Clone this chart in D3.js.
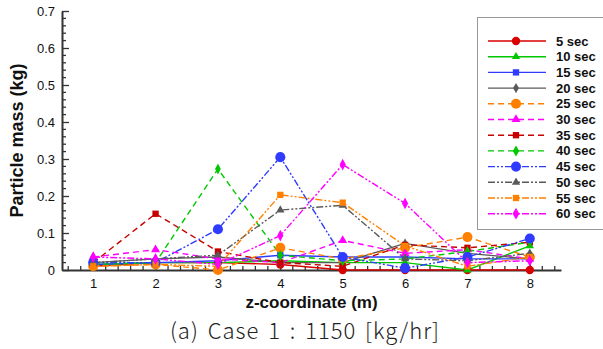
<!DOCTYPE html>
<html>
<head>
<meta charset="utf-8">
<script src="https://cdn.jsdelivr.net/npm/d3@7"></script>
<style>
  body { margin: 0; background: #fff; }
  svg { display: block; }
  text { font-family: "Liberation Sans", Arial, sans-serif; }
</style>
</head>
<body>
<div id="chart"></div>
<script>
"use strict";

// z positions (m)
var zCoords = [1, 2, 3, 4, 5, 6, 7, 8];
var yTicks = [0, 0.1, 0.2, 0.3, 0.4, 0.5, 0.6, 0.7];

// series names and values
var seriesNames = ["5 sec", "10 sec", "15 sec", "20 sec", "25 sec", "30 sec",
                   "35 sec", "40 sec", "45 sec", "50 sec", "55 sec", "60 sec"];
var mass5  = [0.010, 0.020, 0.020, 0.015, 0.000, 0.000, 0.000, 0.000];
var mass10 = [0.015, 0.020, 0.020, 0.025, 0.020, 0.020, 0.000, 0.065];
var mass15 = [0.015, 0.020, 0.025, 0.040, 0.035, 0.035, 0.030, 0.030];
var mass20 = [0.020, 0.030, 0.035, 0.020, 0.020, 0.072, 0.045, 0.030];
var mass25 = [0.010, 0.015, 0.000, 0.060, 0.030, 0.060, 0.089, 0.035];
var mass30 = [0.035, 0.055, 0.030, 0.020, 0.080, 0.045, 0.055, 0.030];
var mass35 = [0.020, 0.152, 0.050, 0.020, 0.010, 0.068, 0.060, 0.075];
var mass40 = [0.015, 0.020, 0.273, 0.040, 0.025, 0.030, 0.050, 0.075];
var mass45 = [0.020, 0.020, 0.110, 0.305, 0.035, 0.005, 0.035, 0.085];
var mass50 = [0.020, 0.030, 0.040, 0.162, 0.175, 0.030, 0.025, 0.045];
var mass55 = [0.010, 0.015, 0.010, 0.203, 0.182, 0.065, 0.010, 0.035];
var mass60 = [0.035, 0.030, 0.015, 0.093, 0.285, 0.180, 0.020, 0.025];
var allMass = [mass5, mass10, mass15, mass20, mass25, mass30,
               mass35, mass40, mass45, mass50, mass55, mass60];

// styles
var colors = ["#d90000", "#00c800", "#2f3cff", "#5a5a5a", "#ff8000", "#ff00ff",
              "#c80000", "#00c800", "#2f3cff", "#5a5a5a", "#ff8000", "#ff00ff"];
var dashes = ["none", "none", "none", "none", "6,4", "6,4", "6,4", "6,4",
              "7,2,2,2,2,2", "7,2,2,2,2,2", "7,2,2,2,2,2", "7,2,2,2,2,2"];
var shapes = ["circle", "triangle", "square", "diamond", "circle", "triangle",
              "square", "diamond", "circle", "triangle", "square", "diamond"];
var sizes = [55, 30, 40, 30, 80, 35, 40, 35, 80, 30, 40, 40];

var W = 603, H = 349;
var margin = { left: 62, right: 42, top: 11, bottom: 79 };

var svg = d3.select("#chart").append("svg")
    .attr("width", W)
    .attr("height", H);

var x = d3.scaleLinear().domain([0.5, 8.5]).range([margin.left, W - margin.right]);
var y = d3.scaleLinear().domain([0, 0.7]).range([H - margin.bottom, margin.top]);

var symbolType = {
    circle: d3.symbolCircle,
    triangle: d3.symbolTriangle,
    square: d3.symbolSquare,
    diamond: d3.symbolDiamond
};

//minor ticks first
var axisColor = "#333";
var minorX = d3.range(0.6, 8.45, 0.2).filter(function (v) { return Math.abs(v - Math.round(v)) > 0.01; });
var minorY = d3.range(0.02, 0.7, 0.02).filter(function (v) { return Math.abs(v * 10 - Math.round(v * 10)) > 0.01; });

var xAxis = d3.axisBottom(x).tickValues(zCoords).tickFormat(d3.format("d"))
    .tickSizeInner(-7).tickSizeOuter(0).tickPadding(9);
var yAxis = d3.axisLeft(y).tickValues(yTicks)
    .tickFormat(function (d) { return d === 0 ? "0" : d3.format(".1f")(d); })
    .tickSizeInner(-7).tickSizeOuter(0).tickPadding(7);

var gx = svg.append("g").attr("transform", "translate(0," + y(0) + ")").call(xAxis);
var gy = svg.append("g").attr("transform", "translate(" + x(0.5) + ",0)").call(yAxis);

gx.selectAll(".minor").data(minorX).enter().append("line")
    .attr("x1", function (d) { return x(d); }).attr("x2", function (d) { return x(d); })
    .attr("y1", 0).attr("y2", -4);
gy.selectAll(".minor").data(minorY).enter().append("line")
    .attr("y1", function (d) { return y(d); }).attr("y2", function (d) { return y(d); })
    .attr("x1", 0).attr("x2", 4);

[gx, gy].forEach(function (g) {
    g.select(".domain").attr("stroke", axisColor).attr("stroke-width", 2);
    g.selectAll("line").attr("stroke", axisColor).attr("stroke-width", 1.3);
    g.selectAll("text").attr("fill", "#111").style("font-size", "13px")
        .style("font-family", "'Liberation Sans', Arial, sans-serif");
});

// lines
var line = d3.line()
    .x(function (d, i) { return x(zCoords[i]); })
    .y(function (d) { return y(d); });

var plot = svg.append("g");

allMass.forEach(function (vals, s) {
    plot.append("path")
        .datum(vals)
        .attr("fill", "none")
        .attr("stroke", colors[s])
        .attr("stroke-width", 1.4)
        .attr("stroke-dasharray", dashes[s])
        .attr("d", line);
});

allMass.forEach(function (vals, s) {
    var sym = d3.symbol().type(symbolType[shapes[s]]).size(sizes[s]);
    plot.selectAll(null)
        .data(vals)
        .enter().append("path")
        .attr("d", sym)
        .attr("fill", colors[s])
        .attr("transform", function (d, i) {
            return "translate(" + x(zCoords[i]) + "," + y(d) + ")" + (shapes[s] === "diamond" ? " scale(0.9,1)" : "");
        });
});

// legend
var legend = svg.append("g").attr("transform", "translate(477,17)");
legend.append("rect")
    .attr("x", 0.5).attr("y", 0.5)
    .attr("width", 140).attr("height", 212)
    .attr("fill", "#fff")
    .attr("stroke", "#999")
    .attr("stroke-width", 1);

var items = legend.selectAll(".item")
    .data(seriesNames)
    .enter().append("g")
    .attr("transform", function (d, i) { return "translate(0," + (24 + i * 15.7) + ")"; });

items.append("line")
    .attr("x1", 11).attr("x2", 69)
    .attr("y1", 0).attr("y2", 0)
    .attr("stroke", function (d, i) { return colors[i]; })
    .attr("stroke-width", 1.4)
    .attr("stroke-dasharray", function (d, i) { return dashes[i]; });

items.append("path")
    .attr("d", function (d, i) { return d3.symbol().type(symbolType[shapes[i]]).size(sizes[i])(); })
    .attr("fill", function (d, i) { return colors[i]; })
    .attr("transform", "translate(39,0)");

items.append("text")
    .attr("x", 79).attr("y", 0).attr("dy", "0.35em")
    .style("font-size", "13px").style("font-weight", "bold")
    .attr("fill", "#111")
    .text(function (d) { return d; });

// titles
svg.append("text")
    .attr("transform", "translate(23," + (y(0.35)) + ") rotate(-90)")
    .attr("text-anchor", "middle")
    .style("font-size", "18px").style("font-weight", "bold")
    .attr("fill", "#111")
    .text("Particle mass (kg)");

svg.append("text")
    .attr("x", x(4.5)).attr("y", 308)
    .attr("text-anchor", "middle")
    .style("font-size", "17px").style("font-weight", "bold")
    .attr("fill", "#111")
    .text("z-coordinate (m)");

svg.append("text")
    .attr("x", 305).attr("y", 339)
    .attr("text-anchor", "middle")
    .style("font-size", "22px")
    .style("font-weight", "300")
    .style("letter-spacing", "1px")
    .style("word-spacing", "3px")
    .style("font-family", "'Noto Sans CJK KR', 'Noto Sans', sans-serif")
    .attr("fill", "#222")
    .text("(a) Case 1 : 1150 [kg/hr]");
</script>
</body>
</html>
